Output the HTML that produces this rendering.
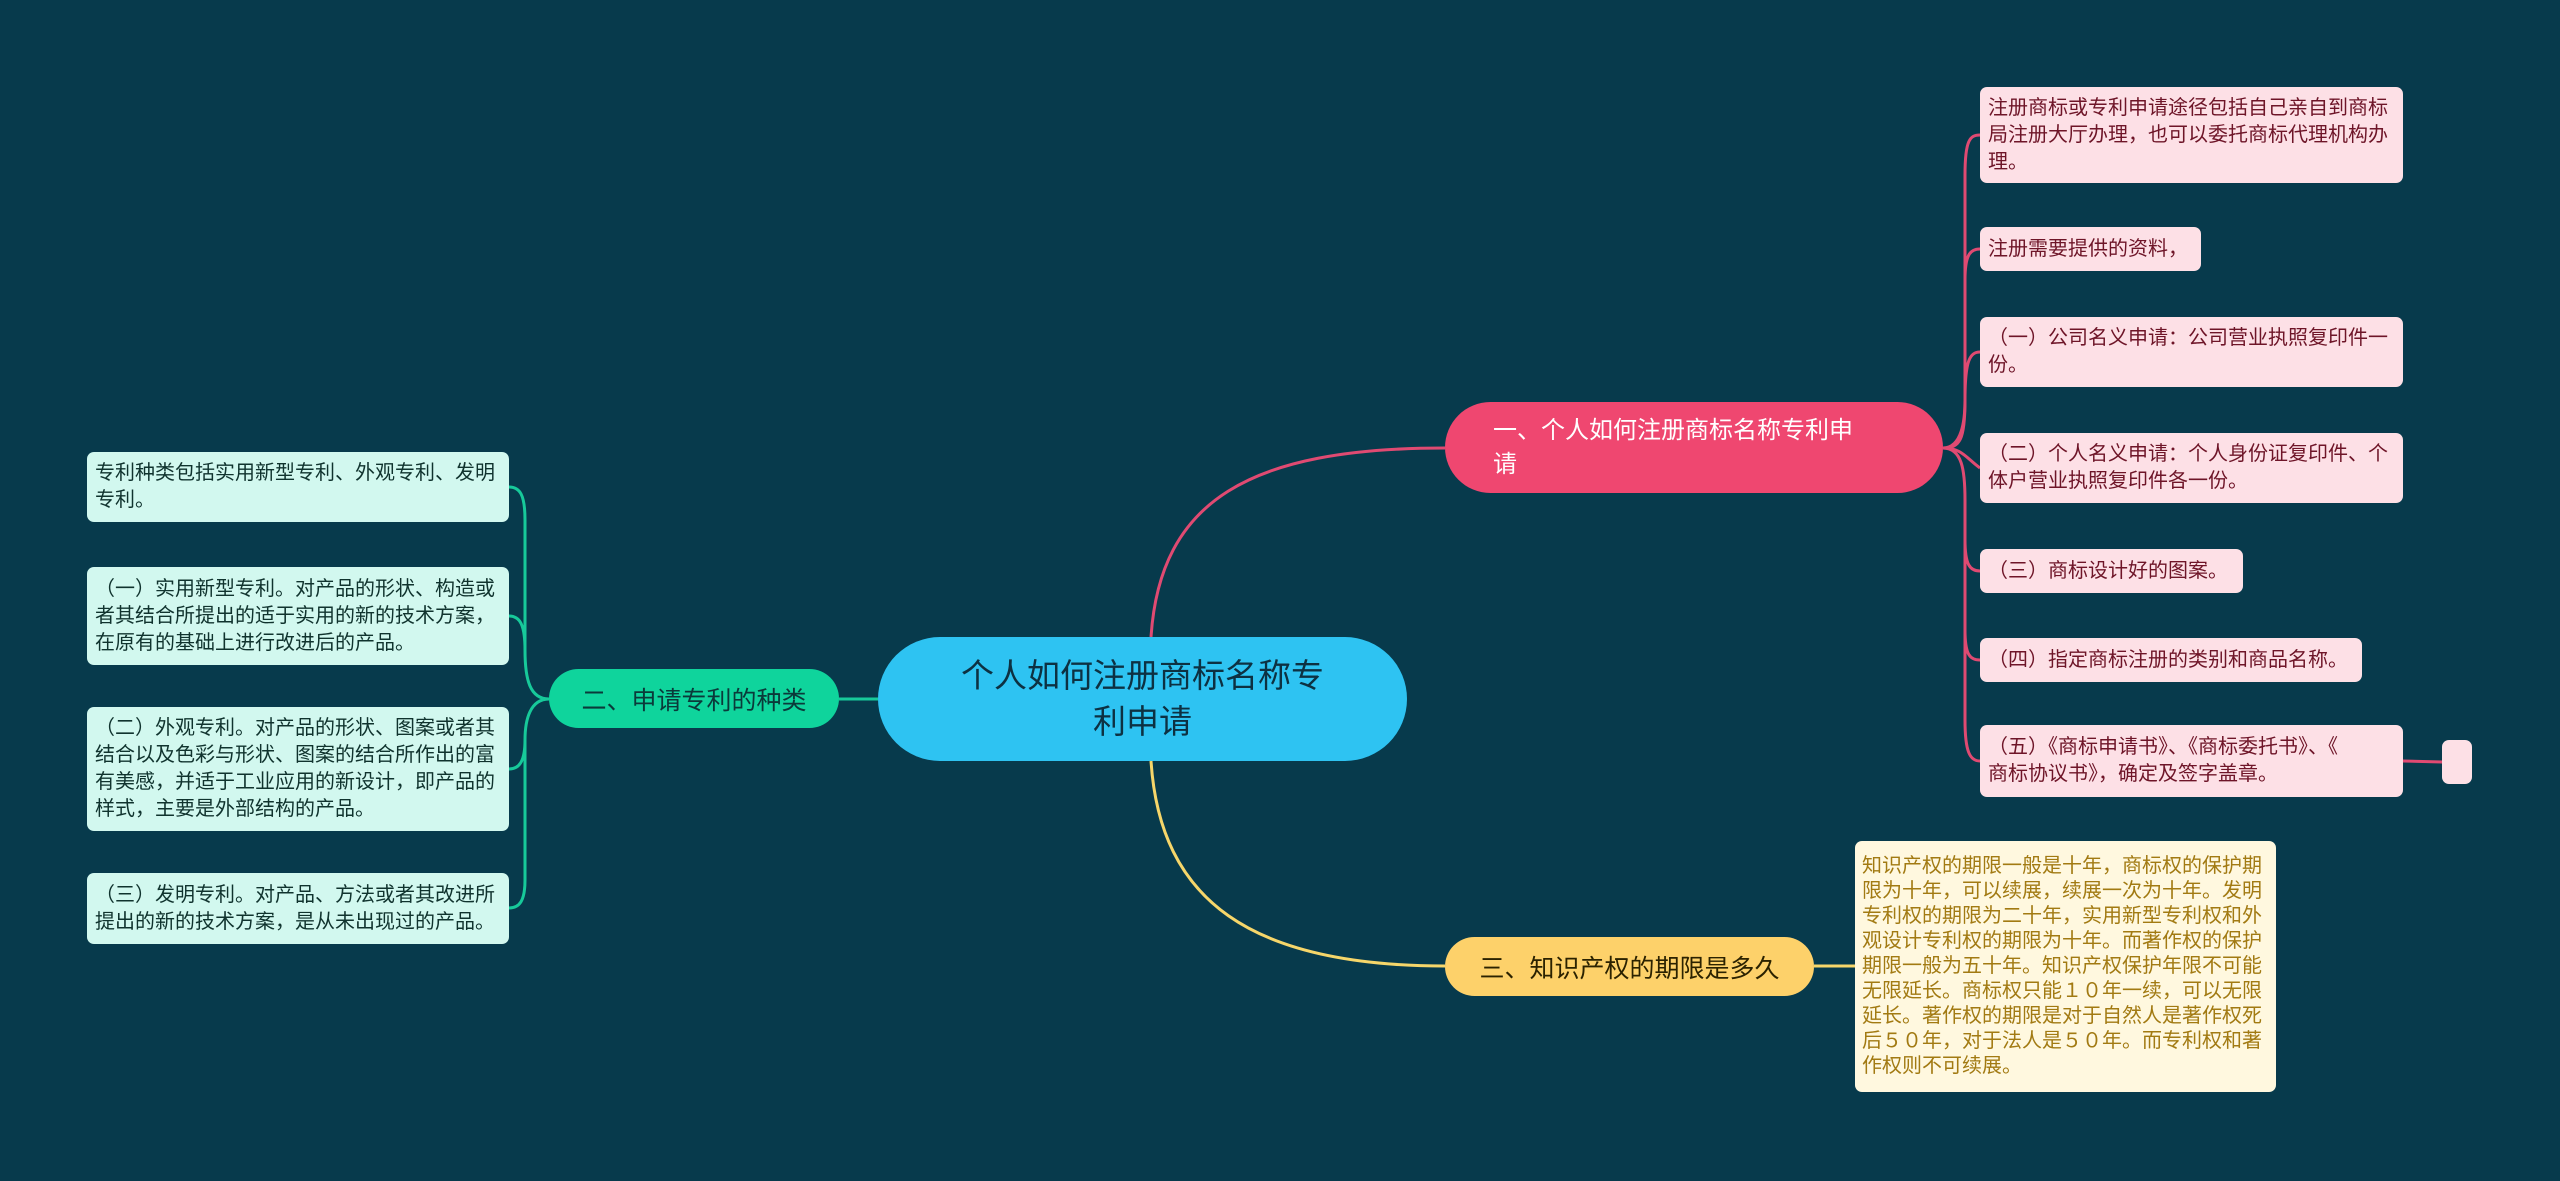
<!DOCTYPE html>
<html><head><meta charset="utf-8"><style>
body{margin:0;width:2560px;height:1181px;background:#073a4c;overflow:hidden;position:relative;font-family:"Liberation Sans","Noto Sans CJK SC",sans-serif}
.n{position:absolute;box-sizing:border-box;display:flex;align-items:center}
.c{background:#2ec3f2;border-radius:62px;color:#0d3142;font-size:33px;line-height:46px;justify-content:center;text-align:center;padding:0 75px}
.b1{background:#ef4770;color:#fff;border-radius:46px;font-size:24px;line-height:34px;padding:0 40px 0 48px}
.b2{background:#0fd49c;color:#0b3a3a;border-radius:30px;font-size:25px;justify-content:center}
.b3{background:#fdd16a;color:#2b2200;border-radius:30px;font-size:25px;justify-content:center}
.p{background:#fde0e6;color:#6e1528;border-radius:7px;font-size:20px;line-height:27px;padding:0 8px}
.g{background:#d2f8ef;color:#10332e;border-radius:7px;font-size:20px;line-height:27px;padding:0 8px}
.y{background:#fff8df;color:#a27a12;border-radius:7px;font-size:20px;line-height:25px;padding:0 7px}
</style></head><body>
<svg width="2560" height="1181" style="position:absolute;left:0;top:0">
<g fill="none" stroke-width="3">
<path d="M1151 637 C1160 500 1250 448 1445 448" stroke="#e04a72"/>
<path d="M1151 761 C1160 900 1250 966 1445 966" stroke="#f6d66a"/>
<path d="M878 699 L839 699" stroke="#17c99a"/>
<g stroke="#e04a72">
<path d="M1943 448 C1960 448 1965 440 1965 400 L1965 175 C1965 140 1970 135 1980 135"/>
<path d="M1965 280 C1965 255 1970 249 1980 249"/>
<path d="M1943 448 C1962 448 1965 420 1965 400 C1965 360 1970 352 1980 352"/>
<path d="M1943 448 C1962 448 1966 458 1980 468"/>
<path d="M1943 448 C1962 448 1965 470 1965 500 L1965 540 C1965 565 1970 571 1980 571"/>
<path d="M1965 540 L1965 630 C1965 655 1970 660 1980 660"/>
<path d="M1965 630 L1965 720 C1965 752 1970 761 1980 761"/>
<path d="M2403 761 L2442 762"/>
</g>
<g stroke="#17c99a">
<path d="M549 699 C530 699 525 680 525 650 L525 520 C525 495 520 487 509 487"/>
<path d="M525 650 C525 625 520 616 509 616"/>
<path d="M549 699 C530 699 525 720 525 740 C525 760 520 769 509 769"/>
<path d="M525 740 L525 880 C525 900 520 908 509 908"/>
</g>
<path d="M1814 966 L1855 966" stroke="#f6d66a"/>
</g></svg>
<div class="n c" style="left:878px;top:637px;width:529px;height:124px">个人如何注册商标名称专利申请</div>
<div class="n b1" style="left:1445px;top:402px;width:498px;height:91px"><div>一、个人如何注册商标名称专利申<br>请</div></div>
<div class="n b2" style="left:549px;top:669px;width:290px;height:59px">二、申请专利的种类</div>
<div class="n b3" style="left:1445px;top:937px;width:369px;height:59px">三、知识产权的期限是多久</div>
<div class="n p" style="left:1980px;top:87px;width:423px;height:96px">注册商标或专利申请途径包括自己亲自到商标局注册大厅办理，也可以委托商标代理机构办理。</div>
<div class="n p" style="left:1980px;top:227px;width:221px;height:44px">注册需要提供的资料，</div>
<div class="n p" style="left:1980px;top:317px;width:423px;height:70px">（一）公司名义申请：公司营业执照复印件一份。</div>
<div class="n p" style="left:1980px;top:433px;width:423px;height:70px">（二）个人名义申请：个人身份证复印件、个体户营业执照复印件各一份。</div>
<div class="n p" style="left:1980px;top:549px;width:263px;height:44px">（三）商标设计好的图案。</div>
<div class="n p" style="left:1980px;top:638px;width:382px;height:44px">（四）指定商标注册的类别和商品名称。</div>
<div class="n p" style="left:1980px;top:725px;width:423px;height:72px"><div>（五）《商标申请书》、《商标委托书》、《<br>商标协议书》，确定及签字盖章。</div></div>
<div class="n p" style="left:2442px;top:740px;width:30px;height:44px"></div>
<div class="n g" style="left:87px;top:452px;width:422px;height:70px">专利种类包括实用新型专利、外观专利、发明专利。</div>
<div class="n g" style="left:87px;top:567px;width:422px;height:98px">（一）实用新型专利。对产品的形状、构造或者其结合所提出的适于实用的新的技术方案，在原有的基础上进行改进后的产品。</div>
<div class="n g" style="left:87px;top:707px;width:422px;height:124px">（二）外观专利。对产品的形状、图案或者其结合以及色彩与形状、图案的结合所作出的富有美感，并适于工业应用的新设计，即产品的样式，主要是外部结构的产品。</div>
<div class="n g" style="left:87px;top:873px;width:422px;height:71px">（三）发明专利。对产品、方法或者其改进所提出的新的技术方案，是从未出现过的产品。</div>
<div class="n y" style="left:1855px;top:841px;width:421px;height:251px">知识产权的期限一般是十年，商标权的保护期限为十年，可以续展，续展一次为十年。发明专利权的期限为二十年，实用新型专利权和外观设计专利权的期限为十年。而著作权的保护期限一般为五十年。知识产权保护年限不可能无限延长。商标权只能１０年一续，可以无限延长。著作权的期限是对于自然人是著作权死后５０年，对于法人是５０年。而专利权和著作权则不可续展。</div>
</body></html>
